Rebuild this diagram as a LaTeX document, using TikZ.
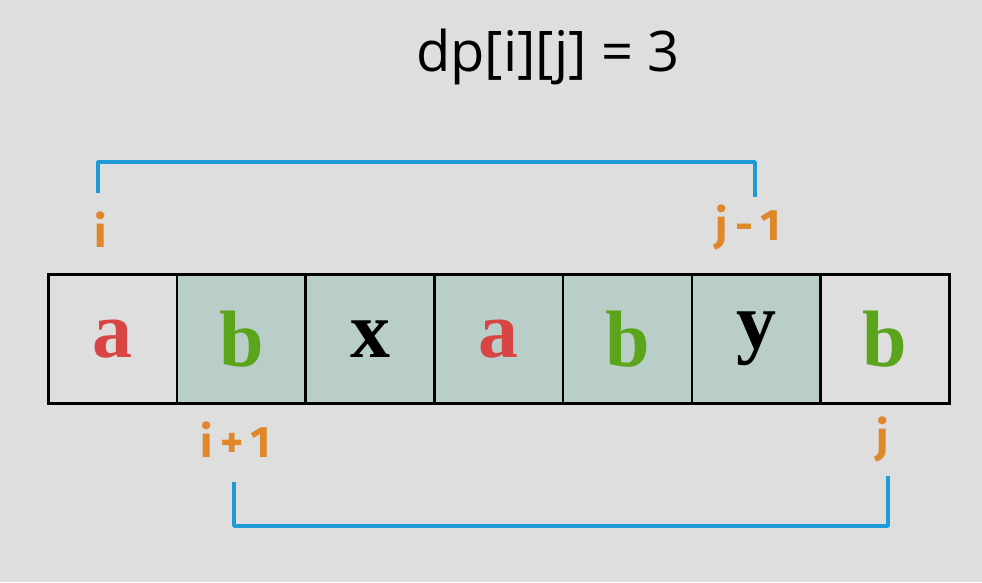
\documentclass[tikz,border=0pt]{standalone}
\usepackage{fontspec}
\setmainfont{Liberation Serif}
\newfontfamily\titlefont{Open Sans}
\newfontfamily\handfont{Fira Sans}
\definecolor{bg}{HTML}{DEDEDE}
\definecolor{cellfill}{HTML}{B9CEC8}
\definecolor{bracketblue}{HTML}{1E9AD6}
\definecolor{labelorange}{HTML}{E0872A}
\definecolor{lettred}{HTML}{D94545}
\definecolor{lettgreen}{HTML}{5BA51C}
\tikzset{
  cellbox/.style={draw=black, line width=2.6pt, minimum width=128.7pt, minimum height=129pt, inner sep=0pt, anchor=north west},
  shaded/.style={fill=cellfill},
  letter/.style={font=\fontsize{80}{80}\selectfont\bfseries},
  bracket/.style={draw=bracketblue, line width=3.5pt, line join=round},
  idx/.style={text=labelorange, font=\handfont\fontsize{44}{44}\selectfont\bfseries}
}
\begin{document}
\begin{tikzpicture}[x=1pt,y=-1pt]
\fill[bg] (0,0) rectangle (982,582);
\useasboundingbox (0,0) rectangle (982,582);
\node[font=\titlefont\fontsize{56}{56}\selectfont] (title) at (548,57) {dp[i][j] = 3};
\node[cellbox] (c1) at (47,273) {};
\node[cellbox,shaded] (c2) at (175.7,273) {};
\node[cellbox,shaded] (c3) at (304.4,273) {};
\node[cellbox,shaded] (c4) at (433.1,273) {};
\node[cellbox,shaded] (c5) at (561.8,273) {};
\node[cellbox,shaded] (c6) at (690.5,273) {};
\node[cellbox] (c7) at (819.2,273) {};
\node[letter,text=lettred] (l1) at (c1.center) {a};
\node[letter,text=lettgreen] (l2) at (c2.center) {b};
\node[letter,text=black] (l3) at (c3.center) {x};
\node[letter,text=lettred] (l4) at (c4.center) {a};
\node[letter,text=lettgreen] (l5) at (c5.center) {b};
\node[letter,text=black] (l6) at (c6.center) {y};
\node[letter,text=lettgreen] (l7) at (c7.center) {b};
\node[idx] (li) at (101,230) {i};
\node[idx] (ljm) at (748,228) {j\,-\,1};
\node[idx] (lip) at (236,440) {i\,+\,1};
\node[idx] (lj) at (883,440) {j};
\coordinate (t1) at (98,193);
\coordinate (t2) at (755,197);
\coordinate (b1) at (234,482);
\coordinate (b2) at (888,476);
\draw[bracket] (t1) -- (98,162) -- (755,162) -- (t2);
\draw[bracket] (b1) -- (234,526) -- (888,526) -- (b2);
\end{tikzpicture}
\end{document}
